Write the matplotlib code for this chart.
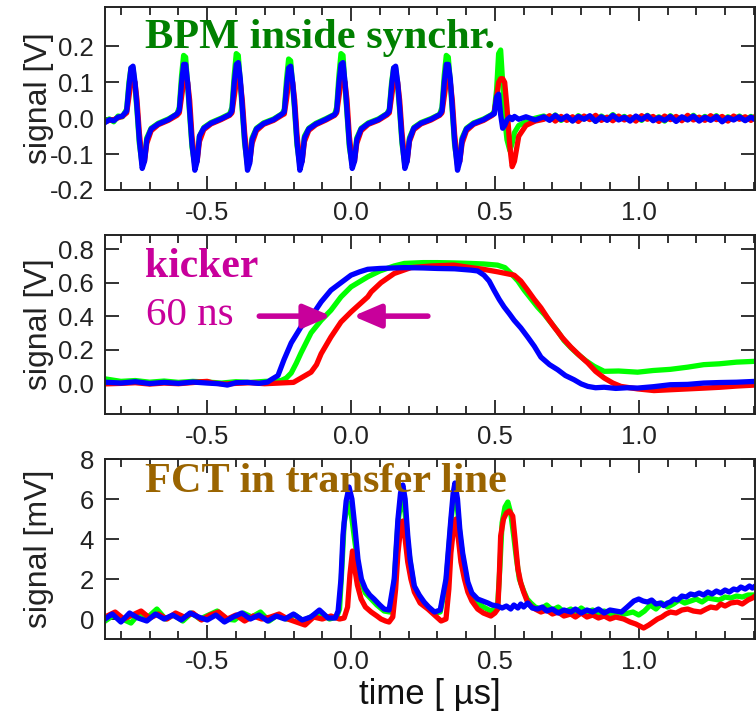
import numpy as np
import matplotlib
matplotlib.use('Agg')
import matplotlib.pyplot as plt
from matplotlib.ticker import MultipleLocator, FormatStrFormatter

plt.rcParams['font.family'] = ['Liberation Sans', 'DejaVu Sans']
plt.rcParams['axes.unicode_minus'] = False

# ---- BPM inside synchrotron (top panel), shared time base ----
bpm_t = [-0.855, -0.84, -0.825, -0.81, -0.795,
         -0.78, -0.772, -0.765, -0.758, -0.751, -0.744, -0.736, -0.726, -0.718, -0.71, -0.695, -0.67, -0.635, -0.605,
         -0.597, -0.589, -0.582, -0.575, -0.568, -0.561, -0.553, -0.543, -0.535, -0.527, -0.512, -0.487, -0.452, -0.422,
         -0.414, -0.406, -0.399, -0.392, -0.385, -0.378, -0.37, -0.36, -0.352, -0.344, -0.329, -0.304, -0.269, -0.239,
         -0.232, -0.224, -0.217, -0.21, -0.203, -0.196, -0.188, -0.178, -0.17, -0.162, -0.147, -0.122, -0.087, -0.057,
         -0.05, -0.042, -0.035, -0.028, -0.021, -0.014, -0.006, 0.004, 0.012, 0.02, 0.035, 0.06, 0.095, 0.125,
         0.133, 0.141, 0.148, 0.155, 0.162, 0.169, 0.177, 0.187, 0.195, 0.203, 0.218, 0.243, 0.278, 0.308,
         0.316, 0.324, 0.331, 0.338, 0.345, 0.352, 0.36, 0.37, 0.378, 0.386, 0.401, 0.426, 0.461, 0.491,
         0.498, 0.506, 0.513, 0.52, 0.527, 0.534, 0.542, 0.552, 0.56, 0.568, 0.583, 0.608, 0.64,
         0.67, 0.69, 0.71, 0.73, 0.75, 0.77, 0.79, 0.81, 0.83, 0.85, 0.87, 0.89, 0.91, 0.93, 0.95, 0.97, 0.99,
         1.01, 1.03, 1.05, 1.07, 1.09, 1.11, 1.13, 1.15, 1.17, 1.19, 1.21, 1.23, 1.25, 1.27, 1.29, 1.31, 1.33,
         1.35, 1.37, 1.39, 1.405]
bpm_green = [-0.008, -0.002, -0.01, 0.006, 0.004,
             0.025, 0.10, 0.14, 0.14, 0.09, 0.02, -0.07, -0.13, -0.11, -0.055, -0.028, -0.014, -0.002, 0.012,
             0.03, 0.12, 0.175, 0.17, 0.09, 0.01, -0.08, -0.13, -0.11, -0.05, -0.026, -0.012, 0.0, 0.012,
             0.03, 0.12, 0.18, 0.175, 0.10, 0.02, -0.07, -0.13, -0.11, -0.055, -0.028, -0.013, -0.002, 0.013,
             0.025, 0.11, 0.165, 0.16, 0.09, 0.02, -0.075, -0.13, -0.11, -0.05, -0.028, -0.014, -0.001, 0.011,
             0.03, 0.12, 0.18, 0.175, 0.09, 0.01, -0.08, -0.13, -0.11, -0.055, -0.028, -0.013, -0.002, 0.013,
             0.025, 0.10, 0.14, 0.14, 0.09, 0.02, -0.07, -0.13, -0.11, -0.055, -0.026, -0.012, -0.001, 0.011,
             0.03, 0.12, 0.175, 0.17, 0.10, 0.02, -0.075, -0.13, -0.11, -0.055, -0.028, -0.013, -0.002, 0.011,
             0.02, 0.08, 0.18, 0.19, 0.10, 0.0, -0.06, -0.09, -0.07, -0.04, -0.02, -0.01, 0.0,
             0.006, -0.004, 0.009, -0.006, 0.004, -0.007, 0.007, -0.002, 0.005, -0.008, 0.006, -0.004, 0.01,
             -0.003, 0.005, -0.006, 0.004, -0.006, 0.008, -0.005, 0.004, -0.008, 0.007, -0.006, 0.002, -0.004,
             0.008, -0.006, 0.005, -0.004, 0.007, -0.008, 0.004, -0.003, 0.006, -0.005, 0.005, -0.002]
bpm_red = [-0.01, -0.006, -0.004, 0.001, 0.005,
           0.015, 0.06, 0.10, 0.105, 0.10, 0.05, -0.04, -0.12, -0.12, -0.07, -0.035, -0.018, -0.006, 0.008,
           0.015, 0.06, 0.10, 0.11, 0.10, 0.05, -0.05, -0.12, -0.12, -0.065, -0.032, -0.016, -0.004, 0.008,
           0.015, 0.06, 0.10, 0.11, 0.10, 0.05, -0.04, -0.12, -0.12, -0.07, -0.035, -0.017, -0.006, 0.009,
           0.012, 0.055, 0.10, 0.105, 0.10, 0.05, -0.045, -0.12, -0.12, -0.065, -0.034, -0.018, -0.005, 0.008,
           0.015, 0.06, 0.10, 0.11, 0.10, 0.05, -0.05, -0.12, -0.12, -0.07, -0.035, -0.017, -0.006, 0.009,
           0.015, 0.06, 0.10, 0.105, 0.10, 0.05, -0.04, -0.12, -0.12, -0.065, -0.032, -0.016, -0.005, 0.008,
           0.015, 0.06, 0.10, 0.11, 0.10, 0.05, -0.045, -0.12, -0.12, -0.07, -0.035, -0.017, -0.006, 0.008,
           0.015, 0.06, 0.10, 0.11, 0.11, 0.10, 0.03, -0.08, -0.135, -0.12, -0.05, -0.02, -0.008,
           -0.003, 0.007, -0.008, 0.005, -0.006, 0.004, -0.009, 0.006, -0.004, 0.008, -0.006, 0.003, -0.007,
           0.006, -0.005, 0.004, -0.008, 0.007, -0.003, 0.005, -0.009, 0.006, -0.004, 0.005, -0.007, 0.008,
           -0.005, 0.003, -0.006, 0.007, -0.004, 0.005, -0.008, 0.006, -0.003, 0.004, -0.006, 0.005]
bpm_blue = [-0.012, -0.004, -0.007, 0.003, 0.006,
            0.02, 0.09, 0.14, 0.145, 0.10, 0.03, -0.06, -0.14, -0.12, -0.06, -0.03, -0.016, -0.004, 0.012,
            0.022, 0.10, 0.15, 0.15, 0.10, 0.02, -0.07, -0.145, -0.12, -0.05, -0.028, -0.014, -0.002, 0.01,
            0.02, 0.10, 0.15, 0.155, 0.11, 0.03, -0.06, -0.145, -0.125, -0.06, -0.03, -0.015, -0.004, 0.012,
            0.018, 0.09, 0.14, 0.145, 0.10, 0.03, -0.065, -0.145, -0.12, -0.055, -0.03, -0.016, -0.003, 0.01,
            0.02, 0.10, 0.15, 0.155, 0.10, 0.02, -0.07, -0.14, -0.12, -0.06, -0.03, -0.015, -0.004, 0.012,
            0.02, 0.09, 0.14, 0.145, 0.10, 0.03, -0.06, -0.14, -0.12, -0.06, -0.028, -0.014, -0.003, 0.01,
            0.02, 0.10, 0.15, 0.15, 0.11, 0.03, -0.065, -0.145, -0.12, -0.06, -0.03, -0.015, -0.004, 0.01,
            0.012, 0.06, 0.067, 0.01, -0.028, -0.02, -0.005, 0.003, -0.004, 0.005, -0.003, 0.004, -0.005,
            0.004, -0.006, 0.008, -0.004, 0.006, -0.008, 0.005, -0.003, 0.007, -0.009, 0.004, -0.006, 0.008,
            -0.005, 0.003, -0.008, 0.006, -0.004, 0.007, -0.007, 0.002, -0.006, 0.005, -0.009, 0.004, -0.005,
            0.006, -0.008, 0.003, -0.006, 0.005, -0.01, 0.002, -0.005, 0.004, -0.007, 0.003, -0.004]

# ---- kicker (middle panel) ----
kick_green_t = [-0.855, -0.80, -0.75, -0.70, -0.65, -0.60, -0.55, -0.50, -0.45, -0.40, -0.35, -0.30, -0.26,
                -0.243, -0.225, -0.208, -0.19, -0.174, -0.139, -0.104, -0.07, -0.035, 0.0, 0.058, 0.10, 0.15,
                0.185, 0.25, 0.30, 0.36, 0.417, 0.46, 0.509, 0.535, 0.556, 0.58, 0.602, 0.625, 0.648, 0.672,
                0.695, 0.718, 0.74, 0.765, 0.787, 0.815, 0.845, 0.88, 0.93, 0.996, 1.05, 1.11, 1.17, 1.226,
                1.28, 1.34, 1.405]
kick_green = [0.025, 0.01, 0.015, 0.005, 0.012, 0.004, 0.01, 0.006, 0.0, 0.008, 0.004, 0.01, 0.012,
              0.015, 0.03, 0.06, 0.12, 0.18, 0.30, 0.375, 0.435, 0.515, 0.575, 0.635, 0.67, 0.70,
              0.715, 0.72, 0.72, 0.718, 0.715, 0.712, 0.705, 0.69, 0.655, 0.61, 0.555, 0.505, 0.455, 0.41,
              0.36, 0.31, 0.255, 0.21, 0.175, 0.135, 0.10, 0.07, 0.072, 0.065, 0.075, 0.082, 0.095, 0.11,
              0.115, 0.125, 0.13]
kick_red_t = [-0.855, -0.80, -0.75, -0.70, -0.65, -0.60, -0.55, -0.52, -0.50, -0.48, -0.44, -0.40, -0.35,
              -0.30, -0.25, -0.20, -0.174, -0.139, -0.12, -0.104, -0.07, -0.035, 0.0, 0.058, 0.07, 0.104,
              0.15, 0.208, 0.28, 0.358, 0.417, 0.46, 0.509, 0.567, 0.59, 0.614, 0.637, 0.66, 0.683, 0.706,
              0.735, 0.764, 0.794, 0.823, 0.85, 0.88, 0.91, 0.938, 0.996, 1.053, 1.11, 1.17, 1.23, 1.285,
              1.34, 1.405]
kick_red = [-0.005, -0.002, 0.002, -0.006, 0.0, -0.004, 0.003, 0.008, 0.01, 0.0, -0.006, -0.002, 0.002,
            -0.004, 0.0, 0.004, 0.03, 0.065, 0.11, 0.175, 0.275, 0.365, 0.425, 0.515, 0.545, 0.60,
            0.655, 0.69, 0.70, 0.705, 0.69, 0.68, 0.665, 0.645, 0.61, 0.555, 0.50, 0.45, 0.39, 0.335,
            0.27, 0.215, 0.165, 0.12, 0.07, 0.03, 0.0, -0.02, -0.035, -0.045, -0.04, -0.035, -0.03, -0.025,
            -0.018, -0.012]
kick_blue_t = [-0.855, -0.80, -0.75, -0.70, -0.65, -0.60, -0.55, -0.50, -0.46, -0.43, -0.40, -0.36, -0.32,
               -0.29, -0.278, -0.254, -0.233, -0.208, -0.174, -0.139, -0.104, -0.07, -0.035, 0.0, 0.03,
               0.058, 0.10, 0.185, 0.25, 0.30, 0.36, 0.417, 0.44, 0.462, 0.48, 0.497, 0.515, 0.532, 0.55,
               0.567, 0.59, 0.614, 0.637, 0.66, 0.69, 0.718, 0.745, 0.775, 0.80, 0.823, 0.85, 0.88, 0.92,
               0.96, 0.996, 1.05, 1.11, 1.17, 1.226, 1.28, 1.34, 1.405]
kick_blue = [0.005, 0.0, 0.008, -0.003, 0.004, -0.002, 0.006, 0.0, -0.004, -0.012, 0.002, 0.004, -0.002,
             0.006, 0.02, 0.045, 0.14, 0.24, 0.335, 0.395, 0.485, 0.555, 0.60, 0.645, 0.665,
             0.68, 0.685, 0.69, 0.688, 0.685, 0.683, 0.675, 0.67, 0.645, 0.61, 0.555, 0.5, 0.455, 0.415,
             0.375, 0.33, 0.275, 0.22, 0.155, 0.11, 0.08, 0.045, 0.02, -0.005, -0.02, -0.028, -0.025, -0.032,
             -0.028, -0.03, -0.022, -0.01, -0.008, 0.0, 0.003, 0.005, 0.01]

# ---- FCT in transfer line (bottom panel) ----
fct_green_t = [-0.855, -0.825, -0.795, -0.765, -0.735, -0.705, -0.675, -0.645, -0.615, -0.585, -0.555,
               -0.525, -0.495, -0.465, -0.435, -0.405, -0.375, -0.345, -0.315, -0.285, -0.255, -0.225,
               -0.195, -0.165, -0.135, -0.105, -0.075, -0.05,
               -0.04, -0.032, -0.024, -0.014, -0.006, 0.003, 0.014, 0.024, 0.036, 0.05, 0.07, 0.09, 0.115,
               0.135, 0.15, 0.163, 0.172, 0.178, 0.188, 0.197, 0.208, 0.22, 0.24, 0.26, 0.29, 0.31, 0.33,
               0.347, 0.355, 0.362, 0.37, 0.38, 0.39, 0.406, 0.42, 0.44, 0.46, 0.486, 0.5, 0.51, 0.517,
               0.525, 0.535, 0.545, 0.555, 0.565, 0.575, 0.585, 0.6, 0.612, 0.625, 0.64, 0.66, 0.68, 0.70,
               0.72, 0.74, 0.764, 0.78, 0.80, 0.82, 0.84, 0.86, 0.88, 0.9, 0.92, 0.95, 0.98, 1.0, 1.02,
               1.04, 1.06, 1.08, 1.1, 1.12, 1.14, 1.16, 1.18, 1.2, 1.22, 1.24, 1.26, 1.28, 1.3, 1.32, 1.34,
               1.36, 1.38, 1.405]
fct_green = [-0.1, 0.2, 0.0, -0.2, 0.3, 0.1, 0.5, 0.0, 0.2, -0.1, 0.3,
             0.0, 0.2, 0.4, 0.0, -0.05, 0.3, 0.1, 0.35, -0.1, 0.2, 0.0,
             0.2, -0.1, 0.15, 0.3, 0.0, 0.1,
             0.5, 2.5, 4.8, 5.6, 5.8, 5.0, 3.8, 2.7, 1.8, 1.3, 1.0, 0.7, 0.4,
             0.35, 1.8, 4.8, 5.8, 6.0, 5.3, 3.8, 2.6, 1.5, 1.0, 0.7, 0.3, 0.35, 1.8,
             4.8, 5.9, 6.2, 5.5, 4.0, 2.9, 1.7, 1.1, 0.8, 0.6, 0.4, 0.5, 0.8, 2.5,
             4.8, 5.6, 5.85, 5.3, 4.2, 3.0, 2.0, 1.4, 1.0, 0.8, 0.6, 0.5, 0.7, 0.45,
             0.6, 0.35, 0.5, 0.3, 0.55, 0.35, 0.45, 0.3, 0.4, 0.25, 0.35, 0.25, 0.35, 0.2, 0.4,
             0.7, 0.5, 0.8, 0.6, 0.75, 0.95, 0.8, 0.9, 1.0, 0.85, 1.05, 1.0, 0.95, 1.1, 1.05, 1.15,
             1.1, 1.2, 1.2]
fct_red_t = [-0.855, -0.82, -0.79, -0.76, -0.73, -0.70, -0.67, -0.64, -0.61, -0.58, -0.55, -0.52, -0.49,
             -0.46, -0.43, -0.40, -0.37, -0.34, -0.31, -0.28, -0.25, -0.22, -0.19, -0.16, -0.13, -0.10,
             -0.07, -0.04, -0.024,
             -0.012, -0.004, 0.005, 0.012, 0.022, 0.035, 0.05, 0.07, 0.09, 0.104, 0.12, 0.132, 0.145, 0.155,
             0.163, 0.172, 0.18, 0.188, 0.197, 0.208, 0.22, 0.24, 0.267, 0.29, 0.313, 0.33, 0.34, 0.347,
             0.356, 0.365, 0.373, 0.382, 0.394, 0.406, 0.42, 0.44, 0.46, 0.486, 0.5, 0.51, 0.515, 0.52,
             0.53, 0.54, 0.55, 0.562, 0.57, 0.58, 0.59, 0.6, 0.612, 0.625, 0.64, 0.66, 0.68, 0.70, 0.72,
             0.74, 0.764, 0.78, 0.80, 0.82, 0.84, 0.86, 0.88, 0.9, 0.92, 0.948, 0.97, 0.99, 1.017, 1.035,
             1.05, 1.065, 1.08, 1.095, 1.11, 1.13, 1.15, 1.17, 1.19, 1.215, 1.235, 1.25, 1.27, 1.285, 1.3,
             1.32, 1.343, 1.36, 1.38, 1.395, 1.405]
fct_red = [0.1, 0.35, 0.0, 0.2, 0.4, 0.05, 0.25, 0.0, 0.3, 0.1, 0.3, -0.05, 0.2,
           0.35, 0.0, 0.2, -0.1, 0.15, 0.0, 0.1, 0.25, 0.0, -0.15, -0.3, 0.1, 0.0,
           0.15, 0.0, 0.05,
           0.6, 2.2, 3.4, 2.6, 1.7, 1.0, 0.6, 0.35, 0.15, 0.0, -0.1, -0.15, 0.1, 1.5,
           3.3, 4.5, 4.9, 4.0, 2.85, 2.0, 1.35, 0.8, 0.5, 0.2, -0.1, 0.0, 1.5, 3.3,
           4.5, 5.0, 4.0, 2.85, 2.0, 1.35, 0.9, 0.5, 0.3, 0.15, 0.3, 0.5, 2.0, 4.15,
           5.0, 5.3, 5.4, 5.15, 4.0, 2.5, 1.8, 1.35, 0.9, 0.65, 0.5, 0.35, 0.45, 0.25, 0.35,
           0.15, 0.25, 0.1, 0.3, 0.1, 0.2, 0.05, 0.15, 0.0, 0.1, 0.0, -0.15, -0.25, -0.45, -0.3,
           -0.15, 0.0, 0.1, 0.25, 0.35, 0.3, 0.45, 0.5, 0.4, 0.35, 0.5, 0.6, 0.55, 0.75, 0.65,
           0.8, 0.85, 0.75, 0.95, 1.05, 1.15]
fct_blue_t = [-0.855, -0.83, -0.80, -0.77, -0.74, -0.71, -0.68, -0.65, -0.62, -0.59, -0.56, -0.53, -0.50,
              -0.47, -0.44, -0.41, -0.38, -0.35, -0.32, -0.29, -0.26, -0.23, -0.20, -0.17, -0.14, -0.11,
              -0.08, -0.055,
              -0.045, -0.035, -0.028, -0.017, -0.007, 0.003, 0.014, 0.024, 0.036, 0.05, 0.065, 0.08, 0.1,
              0.115, 0.132,
              0.15, 0.163, 0.172, 0.18, 0.188, 0.197, 0.205, 0.22, 0.237, 0.254, 0.27, 0.29, 0.31,
              0.33, 0.347, 0.355, 0.361, 0.37, 0.378, 0.388, 0.406, 0.42, 0.44, 0.458, 0.476, 0.49, 0.51,
              0.525, 0.54, 0.555, 0.566, 0.58, 0.59, 0.6, 0.614, 0.63, 0.648, 0.665, 0.68, 0.70, 0.72,
              0.74, 0.764, 0.78, 0.80, 0.82, 0.84, 0.86, 0.88, 0.9, 0.92, 0.94, 0.96, 0.983, 1.0, 1.015,
              1.03, 1.045, 1.06, 1.075, 1.087, 1.1, 1.11, 1.122, 1.135, 1.15, 1.165, 1.18, 1.195, 1.21,
              1.225, 1.24, 1.255, 1.27, 1.285, 1.3, 1.315, 1.33, 1.343, 1.355, 1.37, 1.385, 1.395, 1.405]
fct_blue = [0.0, 0.25, -0.15, 0.3, 0.05, -0.1, 0.25, 0.0, 0.2, -0.05, 0.3, 0.1, -0.05,
            0.2, -0.15, 0.1, 0.3, 0.0, 0.2, -0.1, 0.15, 0.0, 0.25, -0.05, 0.1, 0.45,
            0.05, 0.05,
            0.4, 2.0, 4.2, 5.9, 6.6, 6.0, 4.5, 3.0, 2.0, 1.5, 1.2, 1.0, 0.7,
            0.5, 0.45,
            2.0, 5.0, 6.3, 6.7, 6.0, 4.2, 3.0, 1.65, 1.2, 0.85, 0.6, 0.35, 0.45,
            2.0, 5.0, 6.3, 6.8, 6.0, 4.5, 3.3, 1.85, 1.3, 1.0, 0.9, 0.8, 0.7, 0.65,
            0.55, 0.65, 0.5, 0.7, 0.55, 0.75, 0.6, 0.8, 0.55, 0.5, 0.6, 0.4, 0.5, 0.3,
            0.45, 0.35, 0.5, 0.3, 0.45, 0.35, 0.5, 0.3, 0.45, 0.4, 0.35, 0.6, 0.9, 1.0, 0.9,
            0.85, 0.95, 0.75, 0.8, 0.67, 0.8, 0.85, 1.0, 0.95, 1.15, 1.1, 1.25, 1.2, 1.3,
            1.2, 1.35, 1.25, 1.4, 1.3, 1.45, 1.35, 1.5, 1.45, 1.6, 1.5, 1.65, 1.55, 1.65]

colors = {'green': '#00ff00', 'red': '#ff0000', 'blue': '#0000ff'}
magenta = '#c8009b'
lw = 3.8

fig = plt.figure(figsize=(7.56, 7.18), dpi=100)
ax1 = fig.add_axes([0.139, 0.7354, 0.860, 0.2549])
ax2 = fig.add_axes([0.139, 0.4234, 0.860, 0.2493])
ax3 = fig.add_axes([0.139, 0.1100, 0.860, 0.2507])


def style(ax, ylim, yticks, yfmt, ylabel):
    ax.set_xlim(-0.855, 1.405)
    ax.set_ylim(*ylim)
    ax.set_yticks(yticks)
    ax.yaxis.set_major_formatter(FormatStrFormatter(yfmt))
    ax.xaxis.set_major_locator(MultipleLocator(0.5))
    ax.xaxis.set_minor_locator(MultipleLocator(0.1))
    ax.xaxis.set_major_formatter(FormatStrFormatter('%.1f'))
    ax.tick_params(which='both', direction='in', top=True, right=True,
                   labelsize=18.5, pad=8, width=1.3, color='#222222', labelcolor='#222222')
    ax.tick_params(which='major', length=10)
    ax.tick_params(which='minor', length=6)
    for s in ax.spines.values():
        s.set_linewidth(1.4)
        s.set_color('#222222')
    ax.set_ylabel(ylabel, fontsize=23, color='#222222')
    ax.yaxis.set_label_coords(-0.078, 0.5)


ax1.plot(bpm_t, bpm_green, color=colors['green'], lw=lw)
ax1.plot(bpm_t, bpm_red, color=colors['red'], lw=lw)
ax1.plot(bpm_t, bpm_blue, color=colors['blue'], lw=lw)
style(ax1, (-0.2, 0.31), [-0.2, -0.1, 0.0, 0.1, 0.2], '%.1f', 'signal [V]')
ax1.text(0.061, 0.776, 'BPM inside synchr.', transform=ax1.transAxes, color='#008000',
         fontsize=30.5, fontweight='bold', family='Liberation Serif', va='baseline')

ax2.plot(kick_green_t, kick_green, color=colors['green'], lw=lw)
ax2.plot(kick_red_t, kick_red, color=colors['red'], lw=lw)
ax2.plot(kick_blue_t, kick_blue, color=colors['blue'], lw=lw)
style(ax2, (-0.185, 0.885), [0.0, 0.2, 0.4, 0.6, 0.8], '%.1f', 'signal [V]')
ax2.text(0.061, 0.765, 'kicker', transform=ax2.transAxes, color=magenta,
         fontsize=30, fontweight='bold', family='Liberation Serif', va='baseline')
ax2.text(0.063, 0.497, '60 ns', transform=ax2.transAxes, color=magenta,
         fontsize=29.5, family='Liberation Serif', va='baseline')
arrow = dict(arrowstyle='-|>,head_length=0.75,head_width=0.32', lw=4, color=magenta,
             shrinkA=0, shrinkB=0, mutation_scale=22)
ax2.annotate('', xy=(-0.069, 0.4), xytext=(-0.319, 0.4), arrowprops=arrow)
ax2.annotate('', xy=(0.007, 0.4), xytext=(0.267, 0.4), arrowprops=arrow)

ax3.plot(fct_green_t, fct_green, color=colors['green'], lw=lw)
ax3.plot(fct_red_t, fct_red, color=colors['red'], lw=lw)
ax3.plot(fct_blue_t, fct_blue, color=colors['blue'], lw=lw)
style(ax3, (-1, 8), [0, 2, 4, 6, 8], '%d', 'signal [mV]')
ax3.text(0.061, 0.817, 'FCT in transfer line', transform=ax3.transAxes, color='#9a6400',
         fontsize=30.5, fontweight='bold', family='Liberation Serif', va='baseline')
ax3.set_xlabel('time [ µs]', fontsize=25, labelpad=3, color='#111111')

fig.savefig('out.png', dpi=100)
